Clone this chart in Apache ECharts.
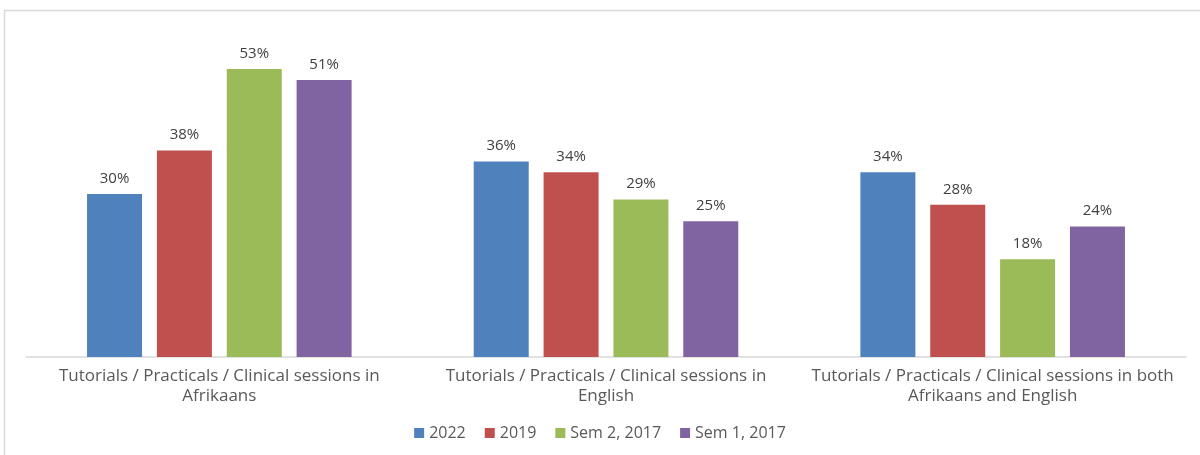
<!DOCTYPE html>
<html>
<head>
<meta charset="utf-8">
<script src="https://cdn.jsdelivr.net/npm/echarts@6/dist/echarts.min.js"></script>
<style>
  html, body { margin: 0; padding: 0; background: #fff; }
  #chart { width: 1200px; height: 455px; }
</style>
</head>
<body>
<div id="chart"></div>
<script>
// Session language preferences by survey period
const categories = [
  'Tutorials / Practicals / Clinical sessions in\nAfrikaans',
  'Tutorials / Practicals / Clinical sessions in\nEnglish',
  'Tutorials / Practicals / Clinical sessions in both\nAfrikaans and English'
];
const seriesNames = ['2022', '2019', 'Sem 2, 2017', 'Sem 1, 2017'];
const values2022 = [30, 36, 34];
const values2019 = [38, 34, 28];
const valuesSem2017b = [53, 29, 18];
const valuesSem2017a = [51, 25, 24];
const colors = ['#4f81bd', '#c0504d', '#9bbb59', '#8064a2'];

const allValues = [values2022, values2019, valuesSem2017b, valuesSem2017a];
const fontFamily = '"Open Sans", Lato, sans-serif';

const chart = echarts.init(document.getElementById('chart'));
chart.setOption({
  animation: false,
  backgroundColor: '#ffffff',
  graphic: [{
    type: 'rect',
    shape: { x: 4.5, y: 10.5, width: 1210, height: 460 },
    style: { fill: 'none', stroke: '#d9d9d9', lineWidth: 1.5 },
    silent: true
  }],
  grid: { left: 26, right: 14, top: 31, bottom: 98, containLabel: false },
  legend: {
    bottom: 9,
    left: 'center',
    itemWidth: 10,
    itemHeight: 10,
    itemGap: 19,
    icon: 'rect',
    textStyle: { color: '#595959', fontSize: 16, fontFamily: fontFamily },
    data: seriesNames
  },
  xAxis: {
    type: 'category',
    data: categories,
    axisLine: { lineStyle: { color: '#d9d9d9', width: 1.5 } },
    axisTick: { show: false },
    axisLabel: {
      color: '#595959',
      fontSize: 17,
      fontFamily: fontFamily,
      lineHeight: 20,
      margin: 9,
      interval: 0
    }
  },
  yAxis: {
    type: 'value',
    min: 0,
    max: 60,
    show: false,
    splitLine: { show: false }
  },
  series: seriesNames.map((name, i) => ({
    name: name,
    type: 'bar',
    data: allValues[i],
    barWidth: 55,
    barGap: '27%',
    itemStyle: { color: colors[i] },
    label: {
      show: true,
      position: 'top',
      distance: 8,
      formatter: '{c}%',
      color: '#404040',
      fontSize: 15,
      fontFamily: fontFamily
    }
  }))
});
</script>
</body>
</html>
